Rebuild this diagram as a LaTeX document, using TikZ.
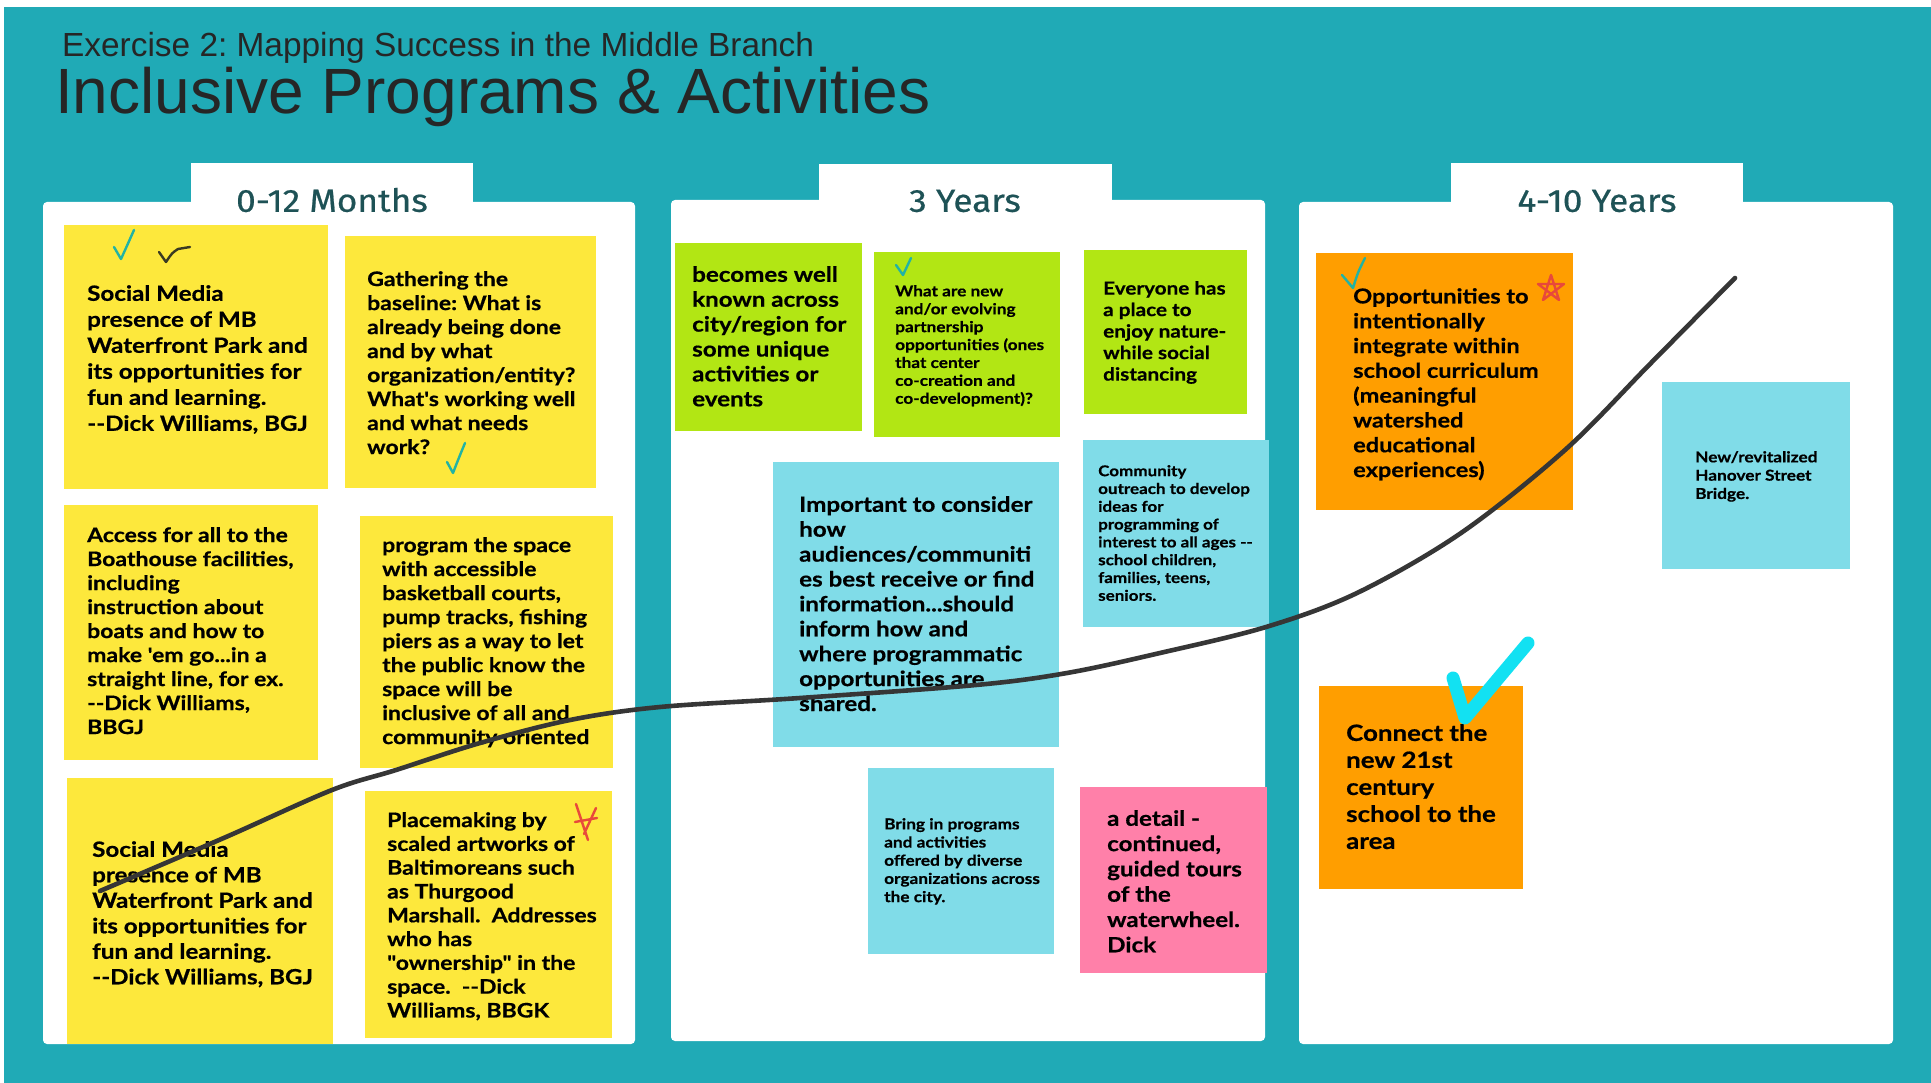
\documentclass[tikz,border=0pt]{standalone}
\usepackage{fontspec}
\setmainfont{Lato}[Ligatures=TeXOff, FakeStretch=1.15, BoldFeatures={FakeBold=0.6}]
\newfontfamily\headfont{Liberation Sans}
\newfontfamily\tabfont{Fira Sans}[FakeStretch=1.1, FakeBold=0.6]
\frenchspacing
\usetikzlibrary{positioning}
\definecolor{boardteal}{HTML}{20AAB6}
\definecolor{titlegray}{HTML}{262626}
\definecolor{tabtext}{HTML}{1E5256}
\definecolor{noteyellow}{HTML}{FDE83C}
\definecolor{notegreen}{HTML}{B2E614}
\definecolor{noteblue}{HTML}{80DCE8}
\definecolor{notepink}{HTML}{FF80A9}
\definecolor{noteorange}{HTML}{FF9E00}
\definecolor{checkteal}{HTML}{22B3A4}
\definecolor{checkdark}{HTML}{3A3A22}
\definecolor{penred}{HTML}{E8493B}
\definecolor{pencyan}{HTML}{12E1F2}
\definecolor{trendgray}{HTML}{363636}
\tikzset{
  panel/.style ={fill=white, rounded corners=4pt},
  sticky/.style={fill=#1, inner sep=0pt, anchor=north west},
  memo/.style n args={2}{inner sep=0pt, anchor=north west, align=left, text=black,
                         font=\fontsize{#1}{#2}\selectfont\bfseries},
  period/.style={font=\tabfont\fontsize{32}{36}\selectfont, text=tabtext, inner sep=0pt},
  tick/.style  ={line width=2.4pt, line cap=round, line join=round},
  trend/.style ={line width=4.6pt, draw=trendgray, line cap=round, line join=round},
}

\begin{document}
\begin{tikzpicture}[x=1pt, y=-1pt]
  \useasboundingbox (0,0) rectangle (1931,1083);
  \fill[white] (0,0) rectangle (1931,1083);
  \fill[boardteal] (4,7) rectangle (1931,1083);

  % heading
  \node[anchor=base west, inner sep=0pt, text=titlegray, font=\headfont\fontsize{33.4}{40}\selectfont] (exercise) at (62,56.5) {Exercise 2: Mapping Success in the Middle Branch};
  \node[anchor=base west, inner sep=0pt, text=titlegray, font=\headfont\fontsize{64}{76}\selectfont] (heading) at (55,114) {Inclusive Programs \& Activities};

  % the three time columns
  \fill[panel] (43,202) rectangle (635,1044);
  \fill[white] (191,163) rectangle (473,204);
  \fill[panel] (671,200) rectangle (1265,1041);
  \fill[white] (819,164) rectangle (1112,202);
  \fill[panel] (1299,202) rectangle (1893,1044);
  \fill[white] (1451,163) rectangle (1743,204);
  \node[period] (months) at (332,200) {0-12 Months};
  \node[period] (three) at (965,201) {3 Years};
  \node[period] (longterm) at (1597,201) {4-10 Years};

  % 0-12 months
  \node[sticky=noteyellow, minimum width=264pt, minimum height=264pt] (social) at (64,225) {};
  \node[memo={21}{26}, below right=60pt and 23pt of social.north west] (socialtxt) {Social Media\\presence of MB\\Waterfront Park and\\its opportunities for\\fun and learning.\\--Dick Williams, BGJ};
  \node[sticky=noteyellow, minimum width=251pt, minimum height=252pt] (baseline) at (345,236) {};
  \node[memo={20}{24}, below right=35pt and 22pt of baseline.north west] (baselinetxt) {Gathering the\\baseline: What is\\already being done\\and by what\\organization/entity?\\What's working well\\and what needs\\work?};
  \node[sticky=noteyellow, minimum width=254pt, minimum height=255pt] (access) at (64,505) {};
  \node[memo={20}{24}, below right=22pt and 23pt of access.north west] (accesstxt) {Access for all to the\\Boathouse facilities,\\including\\instruction about\\boats and how to\\make 'em go...in a\\straight line, for ex.\\--Dick Williams,\\BBGJ};
  \node[sticky=noteyellow, minimum width=253pt, minimum height=252pt] (courts) at (360,516) {};
  \node[memo={20}{24}, below right=21pt and 22pt of courts.north west] (courtstxt) {program the space\\with accessible\\basketball courts,\\pump tracks, fishing\\piers as a way to let\\the public know the\\space will be\\inclusive of all and\\community oriented};
  \node[sticky=noteyellow, minimum width=266pt, minimum height=266pt] (socialtwo) at (67,778) {};
  \node[memo={21}{25.5}, below right=63pt and 25pt of socialtwo.north west] (socialtwotxt) {Social Media\\presence of MB\\Waterfront Park and\\its opportunities for\\fun and learning.\\--Dick Williams, BGJ};
  \node[sticky=noteyellow, minimum width=247pt, minimum height=247pt] (artworks) at (365,791) {};
  \node[memo={20}{23.8}, below right=21pt and 22pt of artworks.north west] (artworkstxt) {Placemaking by\\scaled artworks of\\Baltimoreans such\\as Thurgood\\Marshall.\ \ Addresses\\who has\\"ownership" in the\\space.\ \ --Dick\\Williams, BBGK};

  % 3 years
  \node[sticky=notegreen, minimum width=187pt, minimum height=188pt] (known) at (675,243) {};
  \node[memo={21}{24.9}, below right=23pt and 17pt of known.north west] (knowntxt) {becomes well\\known across\\city/region for\\some unique\\activities or\\events};
  \node[sticky=notegreen, minimum width=186pt, minimum height=185pt] (partners) at (874,252) {};
  \node[memo={15}{17.9}, below right=33pt and 21pt of partners.north west] (partnerstxt) {What are new\\and/or evolving\\partnership\\opportunities (ones\\that center\\co-creation and\\co-development)?};
  \node[sticky=notegreen, minimum width=163pt, minimum height=164pt] (nature) at (1084,250) {};
  \node[memo={18}{21.5}, below right=31pt and 19pt of nature.north west] (naturetxt) {Everyone has\\a place to\\enjoy nature-\\while social\\distancing};
  \node[sticky=noteblue, minimum width=286pt, minimum height=285pt] (audiences) at (773,462) {};
  \node[memo={21}{24.9}, below right=34pt and 26pt of audiences.north west] (audiencestxt) {Important to consider\\how\\audiences/communiti\\es best receive or find\\information...should\\inform how and\\where programmatic\\opportunities are\\shared.};
  \node[sticky=noteblue, minimum width=186pt, minimum height=187pt] (outreach) at (1083,440) {};
  \node[memo={14.8}{17.8}, below right=25pt and 15pt of outreach.north west] (outreachtxt) {Community\\outreach to develop\\ideas for\\programming of\\interest to all ages --\\school children,\\families, teens,\\seniors.};
  \node[sticky=noteblue, minimum width=186pt, minimum height=186pt] (diverse) at (868,768) {};
  \node[memo={15}{18.2}, below right=50pt and 16pt of diverse.north west] (diversetxt) {Bring in programs\\and activities\\offered by diverse\\organizations across\\the city.};
  \node[sticky=notepink, minimum width=187pt, minimum height=186pt] (tours) at (1080,787) {};
  \node[memo={21}{25.3}, below right=23pt and 27pt of tours.north west] (tourstxt) {a detail -\\continued,\\guided tours\\of the\\waterwheel.\\Dick};

  % 4-10 years
  \node[sticky=noteorange, minimum width=257pt, minimum height=257pt] (curriculum) at (1316,253) {};
  \node[memo={20.5}{24.8}, below right=35pt and 37pt of curriculum.north west] (curriculumtxt) {Opportunities to\\intentionally\\integrate within\\school curriculum\\(meaningful\\watershed\\educational\\experiences)};
  \node[sticky=noteblue, minimum width=188pt, minimum height=187pt] (bridge) at (1662,382) {};
  \node[memo={15}{18.3}, below right=69pt and 33pt of bridge.north west] (bridgetxt) {New/revitalized\\Hanover Street\\Bridge.};
  \node[sticky=noteorange, minimum width=204pt, minimum height=203pt] (school) at (1319,686) {};
  \node[memo={22.5}{27}, below right=38pt and 27pt of school.north west] (schooltxt) {Connect the\\new 21st\\century\\school to the\\area};

  % trend line across the board
  \draw[trend] plot[smooth, tension=0.55] coordinates {(100,891) (226,837) (332,790) (396,770) (480,743) (570,720) (660,707) (800,698) (976,685) (1067,673) (1160,653) (1266,627) (1357,593) (1461,533) (1565,450) (1650,364) (1735,278)};

  % pen marks
  \draw[tick, checkteal] (114,247) -- (121,259) .. controls (126,248) .. (134,230);
  \draw[tick, checkdark] (159,252) -- (166,262) .. controls (172,253) .. (178,249) -- (190,247);
  \draw[tick, checkteal] (447,462) -- (453,473) .. controls (458,460) .. (465,443);
  \draw[tick, checkteal] (896,265) -- (903,275) -- (911,258);
  \draw[tick, checkteal] (1342,275) -- (1353,288) .. controls (1358,272) .. (1365,258);
  \draw[tick, penred] (1551,275) -- (1559,300) -- (1538,284) -- (1564,284) -- (1543,300) -- cycle;
  \draw[tick, penred] (576,804) -- (588,840) (596,808) -- (584,834) (575,822) -- (597,818);
  \draw[line width=13pt, pencyan, line cap=round, line join=round] (1453,678) -- (1465,718) -- (1528,643);
\end{tikzpicture}
\end{document}
